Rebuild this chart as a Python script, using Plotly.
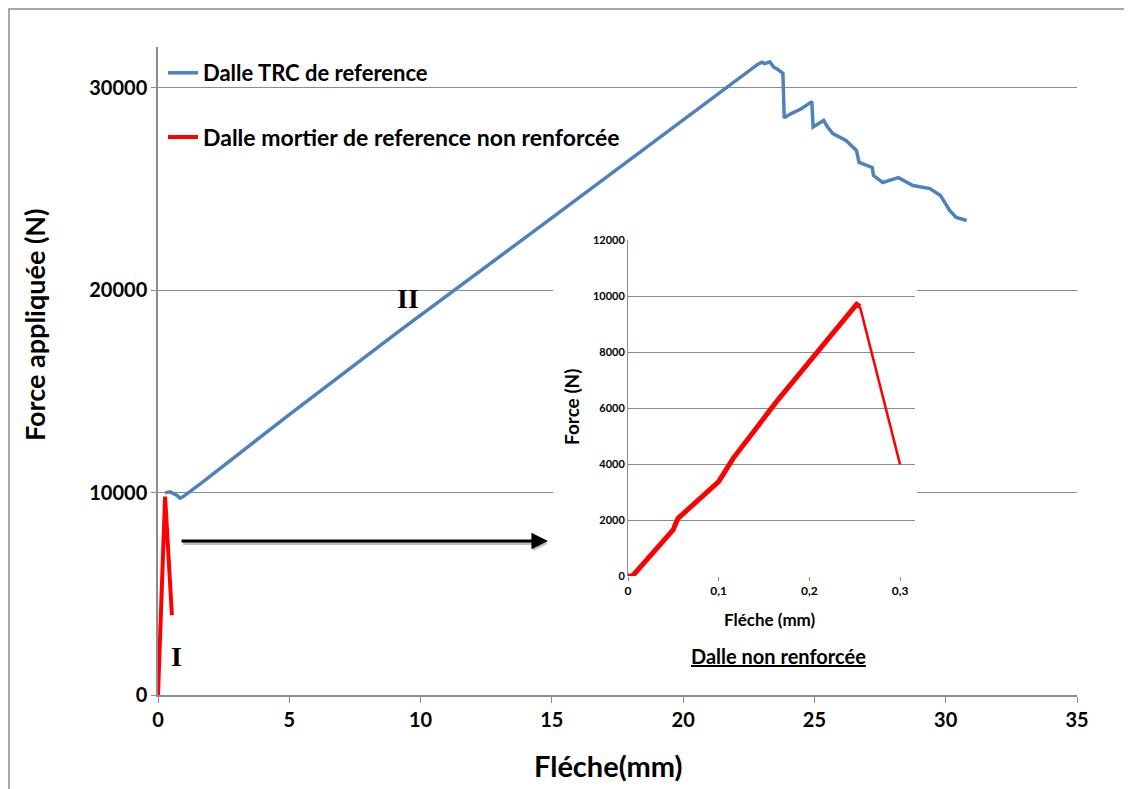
import plotly.graph_objects as go

# ---- data ----
trc_x = [0.27, 0.46, 0.71, 0.84, 0.95, 1.22, 1.71, 5.0, 9.22, 15.0, 21.4, 22.4, 22.85, 23.0, 23.1,
         23.3, 23.45, 23.6, 23.7, 23.8, 23.85, 24.1, 24.5, 24.9, 24.95, 25.15, 25.35, 25.5, 25.7,
         26.2, 26.6, 26.7, 27.2, 27.25, 27.6, 28.2, 28.75, 29.4, 29.8, 30.15, 30.4, 30.8]
trc_y = [9980, 10030, 9870, 9720, 9785, 10030, 10523, 13850, 18007, 23560, 29763, 30700, 31150, 31250, 31180,
         31270, 31000, 30900, 30790, 30700, 28500, 28700, 28950, 29300, 28050, 28220, 28370, 28050, 27720,
         27380, 26890, 26300, 26050, 25650, 25310, 25550, 25160, 25010, 24670, 23930, 23580, 23430]

mortar_main_x = [0.0, 0.05, 0.1, 0.15, 0.2, 0.25, 0.27, 0.53]
mortar_main_y = [0, 1700, 3400, 5500, 7650, 9700, 9800, 3950]

inset_up_x = [0.0, 0.005, 0.0497, 0.0552, 0.1, 0.116, 0.1638, 0.2006, 0.2374, 0.2521, 0.2558]
inset_up_y = [0, 0, 1643, 2060, 3369, 4202, 6226, 7655, 9083, 9702, 9619]
inset_down_x = [0.2558, 0.3]
inset_down_y = [9619, 3988]

main_yticks = [0, 10000, 20000, 30000]
inset_xticks = [0, 0.1, 0.2, 0.3]
inset_xticklabels = ["0", "0,1", "0,2", "0,3"]
inset_yticks = [0, 2000, 4000, 6000, 8000, 10000, 12000]

BLUE = "#4F81BD"
RED = "#FF0000"
GRID = "#8C8C8C"
FONT = "Lato"

fig = go.Figure()

fig.add_trace(go.Scatter(x=trc_x, y=trc_y, mode="lines", name="<b>Dalle TRC de reference</b>",
                         line=dict(color=BLUE, width=3.5), xaxis="x", yaxis="y", legend="legend"))
fig.add_trace(go.Scatter(x=mortar_main_x, y=mortar_main_y, mode="lines",
                         name="<b>Dalle mortier de reference non renforcée</b>",
                         line=dict(color=RED, width=4), xaxis="x", yaxis="y", legend="legend2"))

# cover subplot (white background to hide main gridlines behind inset)
fig.add_trace(go.Scatter(x=[None], y=[None], mode="lines", showlegend=False, hoverinfo="skip",
                         xaxis="x2", yaxis="y2"))

# inset
fig.add_trace(go.Scatter(x=inset_up_x, y=inset_up_y, mode="lines", showlegend=False,
                         line=dict(color=RED, width=5), xaxis="x3", yaxis="y3"))
fig.add_trace(go.Scatter(x=inset_down_x, y=inset_down_y, mode="lines", showlegend=False,
                         line=dict(color=RED, width=2.5), xaxis="x3", yaxis="y3"))

def px_x(p):
    return (p - 158) / 919.0

def px_y(p):
    return (695 - p) / 648.0

def label(text, px, py, size, angle=0, family=FONT):
    return dict(text=text, x=px_x(px), y=px_y(py), xref="paper", yref="paper",
                xanchor="center", yanchor="middle", textangle=angle, showarrow=False,
                font=dict(size=size, color="black", family=family))

annotations = [
    label("<b>Force appliquée (N)</b>", 34, 325, 27, -90),
    label("<b>Fléche(mm)</b>", 608, 765, 29),
    label("<b>Fléche (mm)</b>", 770, 619, 17),
    label("<b>Force (N)</b>", 571, 407, 19, -90),
    label("<b><u>Dalle non renforcée</u></b>", 778, 656, 20),
    dict(text="<b>I</b>", x=0.69, y=1924, xref="x", yref="y", showarrow=False,
         xanchor="center", yanchor="middle",
         font=dict(size=28, color="black", family="Liberation Serif")),
    dict(text="<b>II</b>", x=9.52, y=19586, xref="x", yref="y", showarrow=False,
         xanchor="center", yanchor="middle",
         font=dict(size=28, color="black", family="Liberation Serif")),
    # arrow shadow
    dict(text="", x=14.85, y=7480, ax=0.9, ay=7480, xref="x", yref="y", axref="x", ayref="y",
         showarrow=True, arrowhead=2, arrowsize=1, arrowwidth=3, arrowcolor="rgba(0,0,0,0.25)", standoff=0),
    dict(text="", x=14.85, y=7600, ax=0.84, ay=7600, xref="x", yref="y", axref="x", ayref="y",
         showarrow=True, arrowhead=2, arrowsize=1.1, arrowwidth=3, arrowcolor="black", standoff=0),
]

shapes = [
    dict(type="rect", xref="paper", yref="paper", x0=px_x(9), x1=px_x(1150), y0=px_y(810), y1=px_y(9),
         line=dict(color="#8C8C8C", width=1.5), fillcolor="rgba(0,0,0,0)", layer="below"),
]

tickfont_main = dict(size=20, color="black", family=FONT, weight="bold")
tickfont_inset = dict(size=11, color="black", family=FONT, weight="bold")

fig.update_layout(
    width=1124, height=781,
    margin=dict(l=150, r=55, t=39, b=94),
    paper_bgcolor="white", plot_bgcolor="white",
    xaxis=dict(domain=[0, 1], range=[0, 35], dtick=5, tick0=0, showgrid=False, zeroline=False,
               showline=True, linecolor=GRID, linewidth=1.5, ticks="outside", ticklen=6, tickcolor=GRID,
               tickfont=tickfont_main, anchor="y"),
    yaxis=dict(domain=[0, 1], range=[0, 32000], tickvals=main_yticks, tickformat="d", showgrid=True,
               gridcolor=GRID, gridwidth=1, zeroline=False, showline=True, linecolor=GRID, linewidth=1.5,
               ticks="outside", ticklen=5, tickcolor=GRID, tickfont=tickfont_main, anchor="x"),
    xaxis2=dict(domain=[px_x(553), px_x(917)], range=[0, 1], visible=False, anchor="y2"),
    yaxis2=dict(domain=[px_y(680), px_y(232)], range=[0, 1], visible=False, anchor="x2"),
    xaxis3=dict(domain=[px_x(628), px_x(915)], range=[0, 0.3165], tickvals=inset_xticks,
                ticktext=inset_xticklabels, showgrid=False, zeroline=False, showline=False,
                ticks="outside", ticklen=4, tickcolor=GRID, tickfont=dict(size=12, color="black", family=FONT, weight="bold"),
                anchor="y3"),
    yaxis3=dict(domain=[px_y(576), px_y(240)], range=[0, 12000], tickvals=inset_yticks, tickformat="d",
                showgrid=True, gridcolor=GRID, gridwidth=1, zeroline=False, showline=True, linecolor=GRID,
                linewidth=1, ticks="", tickfont=tickfont_inset, anchor="x3"),
    legend=dict(x=px_x(163), y=px_y(73), xanchor="left", yanchor="middle", bgcolor="rgba(0,0,0,0)",
                font=dict(size=22, color="black", family=FONT)),
    legend2=dict(x=px_x(163), y=px_y(137), xanchor="left", yanchor="middle", bgcolor="rgba(0,0,0,0)",
                 font=dict(size=23, color="black", family=FONT)),
    annotations=annotations,
    shapes=shapes,
    showlegend=True,
)

fig.write_html("out.html")
